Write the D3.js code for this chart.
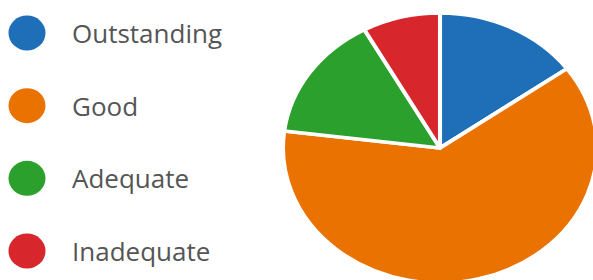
<!DOCTYPE html>
<html>
<head>
<meta charset="utf-8">
<script src="https://cdn.jsdelivr.net/npm/d3@7"></script>
<style>
  html, body { margin: 0; padding: 0; background: #fff; }
  svg { display: block; }
</style>
</head>
<body>
<div id="chart"></div>
<script>
// Daten
const categories = ["Outstanding", "Good", "Adequate", "Inadequate"];
const shares = [15, 62, 15, 8];           // Prozent
const colors = ["#1f6fb8", "#ea7200", "#2ca02c", "#d7262c"];

const w = 593, h = 280;
const svg = d3.select("#chart").append("svg").attr("width", w).attr("height", h);

const color = d3.scaleOrdinal().domain(categories).range(colors);

// Legende links
const ly = d3.scalePoint().domain(categories).range([33, 251]);
const leg = svg.append("g").selectAll("g").data(categories).join("g")
  .attr("transform", d => `translate(0,${ly(d)})`);

leg.append("ellipse")
  .attr("cx", 27).attr("cy", 0)
  .attr("rx", 18.5).attr("ry", 17.5)
  .attr("fill", d => color(d));

leg.append("text")
  .attr("x", 72).attr("y", 10)
  .style("font-family", "'Open Sans', 'Noto Sans', sans-serif")
  .style("font-size", "26px")
  .style("fill", "#555")
  .text(d => d);

// Torte (leicht horizontal gestreckt wie im Original)
const R = 135;
const pie = d3.pie().sort(null).value(d => d.v);
const arc = d3.arc().innerRadius(0).outerRadius(R);
const data = categories.map((c, i) => ({ c, v: shares[i] }));

const g = svg.append("g")
  .attr("transform", `translate(440,148) scale(${157 / R},1)`);

g.selectAll("path").data(pie(data)).join("path")
  .attr("d", arc)
  .attr("fill", d => color(d.data.c))
  .attr("stroke", "#fff")
  .attr("stroke-width", 3.5)
  .attr("stroke-linejoin", "round");
</script>
</body>
</html>
